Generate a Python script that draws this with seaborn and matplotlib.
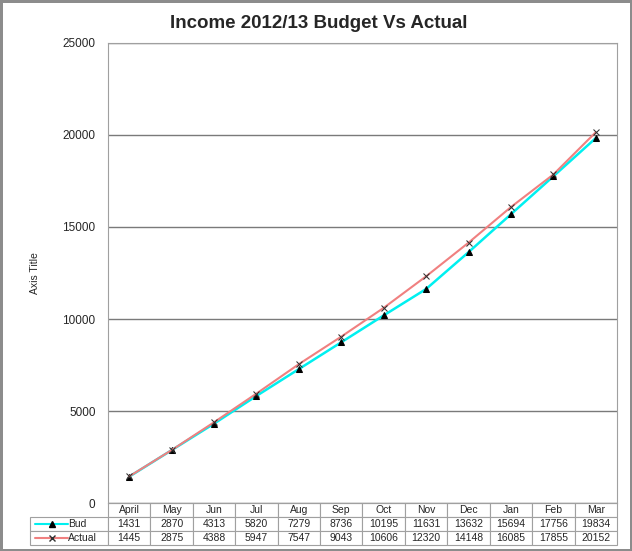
import pandas as pd
import seaborn as sns
import matplotlib.pyplot as plt
from matplotlib.lines import Line2D

months = ["April", "May", "Jun", "Jul", "Aug", "Sep", "Oct", "Nov", "Dec", "Jan", "Feb", "Mar"]
bud = [1431, 2870, 4313, 5820, 7279, 8736, 10195, 11631, 13632, 15694, 17756, 19834]
actual = [1445, 2875, 4388, 5947, 7547, 9043, 10606, 12320, 14148, 16085, 17855, 20152]

df = pd.DataFrame({"month": months, "Bud": bud, "Actual": actual})

sns.set_style("white")
plt.rcParams["font.family"] = ["Liberation Sans", "DejaVu Sans"]

fig = plt.figure(figsize=(6.32, 5.51), dpi=100)
fig.patch.set_edgecolor("#8c8c8c")
fig.patch.set_linewidth(2.5)
ax = fig.add_axes([108 / 632, 48 / 551, 509 / 632, 460 / 551])

# Draw the two series
sns.lineplot(data=df, x="month", y="Bud", color="#00f0f0", lw=1.8, marker="^",
             markersize=5, markerfacecolor="black", markeredgecolor="black", ax=ax)
sns.lineplot(data=df, x="month", y="Actual", color="#f08080", lw=1.5, marker="x",
             markersize=5, markeredgecolor="#303030", ax=ax)

ax.set_xlim(-0.5, len(months) - 0.5)
ax.set_ylim(0, 25000)
ax.set_yticks(range(0, 25001, 5000))
ax.tick_params(axis="y", labelsize=8.5, length=0, pad=9)
ax.set_xticks([])
ax.set_xlabel("")
ax.set_ylabel("Axis Title", fontsize=7.5, labelpad=16, fontstretch="condensed")
ax.yaxis.grid(True, color="#7a7a7a", lw=1)
for s in ax.spines.values():
    s.set_color("#a0a0a0")
ax.set_title("Income 2012/13 Budget Vs Actual", fontsize=13.5, fontweight="bold",
             pad=11, x=(319 - 108) / 509)

# Data table under the plot
first_w = 78 / 509
col_w = 1 / len(months)
cell_text = [[""] + months,
             [""] + [str(v) for v in bud],
             [""] + [str(v) for v in actual]]
tbl = ax.table(cellText=cell_text, colWidths=[first_w] + [col_w] * len(months),
               cellLoc="center", bbox=[-first_w, -42 / 460, 1 + first_w, 42 / 460])
tbl.auto_set_font_size(False)
tbl.set_fontsize(7.5)
for (r, c), cell in tbl.get_celld().items():
    cell.set_edgecolor("#a0a0a0")
    cell.set_linewidth(0.8)
    if r == 0 and c == 0:
        cell.set_visible(False)

# Legend keys in the row label cells
row_h = 14 / 460
keys = [("Bud", "#00f0f0", "^", "black"), ("Actual", "#f08080", "x", "#303030")]
for i, (name, col, mk, mc) in enumerate(keys):
    y = -row_h * (i + 1.5)
    ax.add_line(Line2D([-73 / 509, -40 / 509], [y, y], color=col, lw=1.5,
                       transform=ax.transAxes, clip_on=False))
    ax.add_line(Line2D([-56 / 509], [y], marker=mk, markersize=4, color=mc,
                       transform=ax.transAxes, clip_on=False))
    ax.text(-40 / 509, y, name, fontsize=7.5, va="center", ha="left",
            transform=ax.transAxes)

fig.savefig("out.png", dpi=100, edgecolor=fig.get_edgecolor())
